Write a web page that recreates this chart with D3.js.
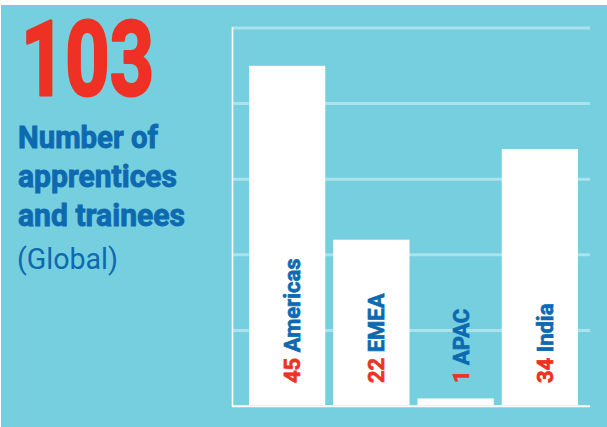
<!DOCTYPE html>
<html>
<head>
<meta charset="utf-8">
<script src="https://cdn.jsdelivr.net/npm/d3@7"></script>
<style>
  body { margin: 0; background: #fff; }
  svg { display: block; }
  .cond { font-family: "Liberation Sans Narrow", "Arial Narrow", "Roboto", sans-serif; }
</style>
</head>
<body>
<div id="chart"></div>
<script>
const regions = ["Americas", "EMEA", "APAC", "India"]
const counts = [45, 22, 1, 34]
const total = "103"
const titleLines = ["Number of", "apprentices", "and trainees"]
const subtitle = "(Global)"
const yTicks = [10, 20, 30, 40, 50]

const W = 607, H = 427
const cyan = "#76cfdf"
const red = "#ee3124"
const blue = "#0d69b0"

const svg = d3.select("#chart").append("svg")
  .attr("width", W)
  .attr("height", H)

svg.append("rect")
  .attr("x", 1).attr("y", 5)
  .attr("width", W - 1).attr("height", H - 5)
  .attr("fill", cyan)

// big number + title on the left
svg.append("text")
  .attr("class", "cond")
  .attr("x", 21).attr("y", 95)
  .attr("font-size", 103)
  .attr("font-weight", "bold")
  .attr("fill", red)
  .attr("stroke", red)
  .attr("stroke-width", 3)
  .attr("stroke-linejoin", "round")
  .attr("textLength", 133)
  .attr("lengthAdjust", "spacingAndGlyphs")
  .text(total)

const titleWidths = [140, 159, 167]
titleLines.forEach((t, i) => {
  svg.append("text")
    .attr("class", "cond")
    .attr("x", 18).attr("y", 148 + i * 39)
    .attr("font-size", 32)
    .attr("font-weight", "bold")
    .attr("fill", blue)
    .attr("stroke", blue)
    .attr("stroke-width", 0.9)
    .attr("textLength", titleWidths[i])
    .attr("lengthAdjust", "spacingAndGlyphs")
    .text(t)
})

svg.append("text")
  .attr("class", "cond")
  .attr("x", 17).attr("y", 269)
  .attr("font-size", 30)
  .attr("fill", blue)
  .attr("textLength", 101)
  .attr("lengthAdjust", "spacingAndGlyphs")
  .text(subtitle)

// chart area
const x = d3.scaleBand()
  .domain(regions)
  .range([249, 578])
  .paddingInner(0.095)
  .paddingOuter(0)

const y = d3.scaleLinear()
  .domain([0, 50])
  .range([406, 28])

const grid = svg.append("g")
yTicks.forEach(t => {
  grid.append("line")
    .attr("x1", 233).attr("x2", 590)
    .attr("y1", y(t)).attr("y2", y(t))
    .attr("stroke", "#ffffff")
    .attr("stroke-opacity", 0.4)
    .attr("stroke-width", 3)
})

svg.append("g")
  .selectAll("rect")
  .data(counts)
  .join("rect")
  .attr("x", (d, i) => x(regions[i]))
  .attr("y", d => y(d))
  .attr("width", x.bandwidth())
  .attr("height", d => y(0) - 1 - y(d))
  .attr("fill", "#fff")

// axes lines
svg.append("line")
  .attr("x1", 232.5).attr("x2", 232.5)
  .attr("y1", 27).attr("y2", 407)
  .attr("stroke", "#fff").attr("stroke-width", 1.6)
svg.append("line")
  .attr("x1", 232).attr("x2", 590)
  .attr("y1", 406.3).attr("y2", 406.3)
  .attr("stroke", "#fff").attr("stroke-width", 2)

// rotated labels
const labels = svg.append("g")
regions.forEach((r, i) => {
  const cx = x(r) + x.bandwidth() / 2 + 13
  const t = labels.append("text")
    .attr("class", "cond")
    .attr("transform", `translate(${cx},383) rotate(-90)`)
    .attr("font-size", 22)
    .attr("font-weight", "bold")
    .attr("stroke-width", 0.7)
  t.append("tspan").attr("fill", red).attr("stroke", red).text(counts[i])
  t.append("tspan").attr("fill", blue).attr("stroke", blue).text(" " + r)
})
</script>
</body>
</html>
